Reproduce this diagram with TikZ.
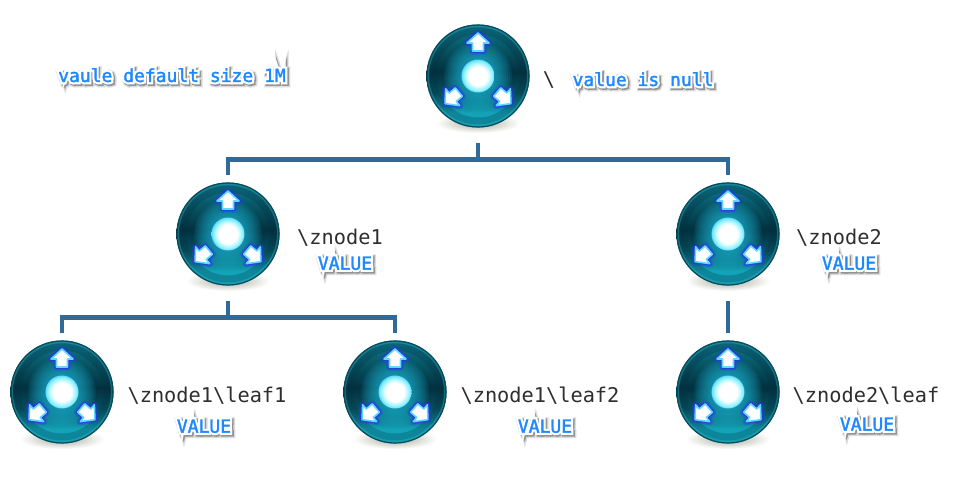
\documentclass[tikz,border=0pt]{standalone}
\usepackage{fontspec}
\setmainfont{DejaVu Sans Mono}
\newfontfamily\monofam{DejaVu Sans Mono}
\definecolor{conncol}{HTML}{2F6A99}
\definecolor{txtblue}{HTML}{1E88FF}
\definecolor{glowblue}{HTML}{2A35F0}
\definecolor{glowcyan}{HTML}{60D8FF}
\definecolor{orbtop}{HTML}{0E7A90}
\definecolor{orbdark}{HTML}{03303F}
\definecolor{orbmid}{HTML}{06505F}
\definecolor{orbbot}{HTML}{13A3B8}
\definecolor{orbedge}{HTML}{064B5B}
\definecolor{orbrim}{HTML}{2A93A5}
\definecolor{corecyan}{HTML}{8CF2FF}
\definecolor{haloglow}{HTML}{1FC0E0}
\definecolor{floora}{HTML}{A8A89F}
\definecolor{floorb}{HTML}{DADAD4}
\pgfdeclareverticalshading{orbbody}{100bp}{
 color(0bp)=(orbbot);
 color(25bp)=(orbbot);
 color(32bp)=(orbbot);
 color(42bp)=(orbmid);
 color(52bp)=(orbdark);
 color(62bp)=(orbmid);
 color(75bp)=(orbtop);
 color(100bp)=(orbtop)}
\pgfdeclareradialshading{sidedark}{\pgfpoint{0bp}{0bp}}{
 color(0bp)=(white);
 color(15bp)=(white);
 color(25bp)=(white);
 color(50bp)=(white)}
\pgfdeclareradialshading{coreshade}{\pgfpoint{0bp}{0bp}}{
 color(0bp)=(white);
 color(14bp)=(white);
 color(22bp)=(corecyan);
 color(25bp)=(glowcyan);
 color(50bp)=(glowcyan)}
\pgfdeclareradialshading{floorshade}{\pgfpoint{0bp}{0bp}}{
 color(0bp)=(floora);
 color(14bp)=(floorb);
 color(25bp)=(white);
 color(50bp)=(white)}
\tikzset{
 conn/.style={draw=conncol,line width=4.6pt},
 orbnode/.style={circle,minimum size=103pt,inner sep=0pt},
 pathlabel/.style={font=\fontsize{20.3}{24}\selectfont,text=black!82,inner sep=0pt},
 valuelabel/.style={font=\monofam\fontsize{18}{22}\selectfont,inner sep=0pt}
}
\newcommand\halo[1]{\leavevmode
 \rlap{\kern1.6pt\raisebox{-1.6pt}{\textcolor{black!14}{\special{pdf:code 2 Tr 7.5 w}#1\special{pdf:code 0 Tr 1 w}}}}%
 \rlap{\kern1.4pt\raisebox{-1.4pt}{\textcolor{black!42}{\special{pdf:code 2 Tr 5 w}#1\special{pdf:code 0 Tr 1 w}}}}%
 \rlap{\textcolor{white}{\special{pdf:code 2 Tr 4.6 w}#1\special{pdf:code 0 Tr 1 w}}}%
 \textcolor{txtblue}{\special{pdf:code 2 Tr 0.35 w}#1\special{pdf:code 0 Tr 1 w}}}
\newcommand\orbarrow[1]{%
 \begin{scope}[rotate=#1]
  \def\arrowpath{(0,-43) -- (11,-33) -- (5.5,-33) -- (5.5,-25) -- (-5.5,-25) -- (-5.5,-33) -- (-11,-33) -- cycle}
  \fill[glowblue,opacity=.3,draw=glowblue,line width=7pt,line join=round] \arrowpath;
  \fill[glowblue,opacity=.75,draw=glowblue,line width=4pt,line join=round] \arrowpath;
  \fill[white,draw=glowcyan,line width=1.6pt,line join=round] \arrowpath;
 \end{scope}}
\newcommand\orb[1]{%
 \begin{scope}[shift={(#1)}]
  \shade[shading=floorshade] (0,47) ellipse (42 and 10);
  \shade[shading=orbbody] (0,0) circle (51.5);
  \draw[orbdark,opacity=.25,line width=7pt] (0,0) circle (45);
  \draw[orbrim,opacity=.55,line width=1.5pt] (0,0) circle (49.8);
  \draw[orbedge,line width=1.2pt] (0,0) circle (51);
  \foreach \r in {34,32,...,18}{\fill[haloglow,opacity=.1] (0,0) circle (\r);}
  \shade[shading=coreshade] (0,0) circle (16.5);
  \orbarrow{0}\orbarrow{130}\orbarrow{-130}
 \end{scope}}
\begin{document}
\begin{tikzpicture}[x=1pt,y=-1pt]
\useasboundingbox[fill=white] (0,0) rectangle (962,477);
\node[orbnode] (root) at (478,76) {};
\node[orbnode] (zn1) at (228,234) {};
\node[orbnode] (zn2) at (728,234) {};
\node[orbnode] (lf1) at (62,392) {};
\node[orbnode] (lf2) at (395,392) {};
\node[orbnode] (lf3) at (728,392) {};
\orb{root}\orb{zn1}\orb{zn2}\orb{lf1}\orb{lf2}\orb{lf3}
\draw[conn] ([yshift=-15pt]root.south) -- ++(0,17) coordinate (rb);
\draw[conn] ([yshift=7pt]zn1.north) |- (rb) -| ([yshift=7pt]zn2.north);
\draw[conn] ([yshift=-15pt]zn1.south) -- ++(0,17) coordinate (zb);
\draw[conn] ([yshift=7pt]lf1.north) |- (zb) -| ([yshift=7pt]lf2.north);
\draw[conn] ([yshift=-15pt]zn2.south) -- ([yshift=7pt]lf3.north);
\node[valuelabel] (t0) at (172,76) {\halo{vaule default size 1M}};
\node[pathlabel] (p0) at (549,80) {\textbackslash};
\node[valuelabel] (t1) at (643,80) {\halo{value is null}};
\node[pathlabel] (p1) at (340,238) {\textbackslash znode1};
\node[valuelabel] (v1) at (345,264) {\halo{VALUE}};
\node[pathlabel] (p2) at (839,238) {\textbackslash znode2};
\node[valuelabel] (v2) at (849,264) {\halo{VALUE}};
\node[pathlabel] (p3) at (207,396) {\textbackslash znode1\textbackslash leaf1};
\node[valuelabel] (v3) at (204,427) {\halo{VALUE}};
\node[pathlabel] (p4) at (540,396) {\textbackslash znode1\textbackslash leaf2};
\node[valuelabel] (v4) at (545,427) {\halo{VALUE}};
\node[pathlabel] (p5) at (866,396) {\textbackslash znode2\textbackslash leaf};
\node[valuelabel] (v5) at (867,425) {\halo{VALUE}};
\end{tikzpicture}
\end{document}
